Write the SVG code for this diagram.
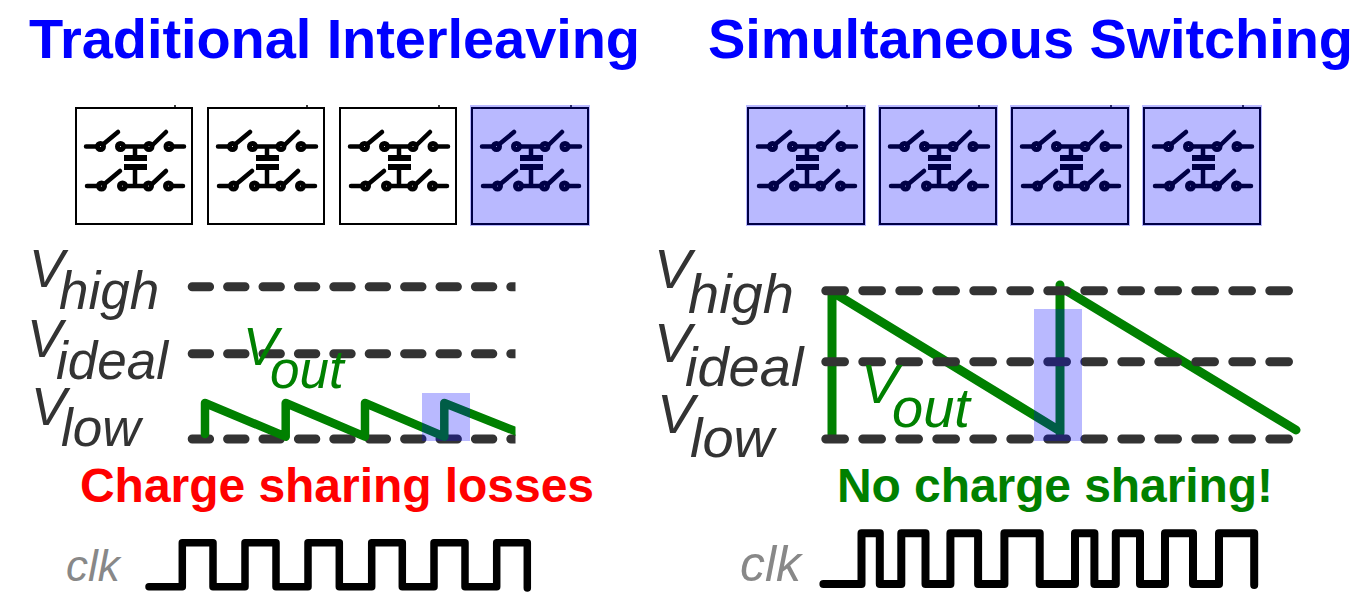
<svg xmlns="http://www.w3.org/2000/svg" width="1366" height="605" viewBox="0 0 1366 605">
<style>
.title{font:bold 56px "Liberation Sans",Arial,sans-serif;fill:#0000ff}
.note{font:bold 48px "Liberation Sans",Arial,sans-serif}
.v{font:italic 53px "Liberation Sans",Arial,sans-serif;fill:#333}
.vr{font:italic 56px "Liberation Sans",Arial,sans-serif;fill:#333}
.clk{font-family:"Liberation Sans",Arial,sans-serif;font-style:italic;fill:#888}
.dash{fill:none;stroke:#333;stroke-width:9;stroke-linecap:round}
.wave{fill:none;stroke:#008000;stroke-width:9;stroke-linecap:round;stroke-linejoin:round}
.clock{fill:none;stroke:#000;stroke-width:7.500;stroke-linecap:round;stroke-linejoin:round}
.hl{fill:#0000ff;fill-opacity:.275}
.wire{fill:none;stroke:#000;stroke-width:4.500;stroke-linecap:round}
.ring{fill:#fff;stroke:#000;stroke-width:5}
</style>
<defs>
<clipPath id="cl"><rect x="180" y="270" width="335.500" height="190"/></clipPath>
<g id="cell">
<rect x="0" y="0" width="116" height="116" fill="#fff" stroke="#000" stroke-width="2"/>
<path d="M99 -3V0M116 63V69" fill="none" stroke="#000" stroke-width="1.500"/>
<path class="wire" d="M10 38.500H21M24.500 38.500L42 24M48 38.500H69M75 38.500L90 24M97 38.500H108M59 38.500V47M59 62V78M11 78H22M26 78L44 63M50 78H68M74 78L90 63M96 78H107"/>
<path d="M48 47H71V53H48ZM48 56H71V62H48Z" fill="#000"/>
<circle class="ring" cx="24.500" cy="38.500" r="3"/><circle class="ring" cx="44.500" cy="38.500" r="3"/><circle class="ring" cx="73" cy="38.500" r="3"/><circle class="ring" cx="93" cy="38.500" r="3"/>
<circle class="ring" cx="25.500" cy="78" r="3"/><circle class="ring" cx="46.500" cy="78" r="3"/><circle class="ring" cx="72.500" cy="78" r="3"/><circle class="ring" cx="92.500" cy="78" r="3"/>
</g>
</defs>
<g id="title-left"><text class="title" x="29" y="58" textLength="611">Traditional Interleaving</text></g>
<g id="title-right"><text class="title" x="708" y="58" textLength="645">Simultaneous Switching</text></g>
<g id="cell-l1"><use href="#cell" x="76" y="108"/></g>
<g id="cell-l2"><use href="#cell" x="208" y="108"/></g>
<g id="cell-l3"><use href="#cell" x="340" y="108"/></g>
<g id="cell-l4"><use href="#cell" x="472" y="108"/><rect class="hl" x="470" y="105" width="120" height="121"/></g>
<g id="cell-r1"><use href="#cell" x="748" y="108"/><rect class="hl" x="746" y="105" width="120" height="121"/></g>
<g id="cell-r2"><use href="#cell" x="880" y="108"/><rect class="hl" x="878" y="105" width="120" height="121"/></g>
<g id="cell-r3"><use href="#cell" x="1012" y="108"/><rect class="hl" x="1010" y="105" width="120" height="121"/></g>
<g id="cell-r4"><use href="#cell" x="1144" y="108"/><rect class="hl" x="1142" y="105" width="120" height="121"/></g>
<g id="labels-left">
<text class="v" x="29" y="287">V</text><text class="v" x="59" y="309">high</text>
<text class="v" x="27" y="357">V</text><text class="v" x="56" y="379">ideal</text>
<text class="v" x="31" y="425">V</text><text class="v" x="61" y="446">low</text>
</g>
<g id="connectors">
<g clip-path="url(#cl)">
<path class="dash" stroke-dasharray="17.400 18" d="M192.200 286.700H530M192.200 353.700H530M192.200 439H530"/>
<path class="wave" style="stroke-width:8.500" d="M205 434V403L285.700 436.700V403L365 436.700V403L444.300 436.700V403L530 437"/>
</g>
<path class="wave" d="M832 438V293M834 293L1060 431M1060 433V285M1068 291.700L1296 430"/>
<path class="dash" stroke-dasharray="18.700 18.300" d="M825.800 290.700H1289.500M825.800 361.700H1289.500M825.800 439H1289.500"/>
<rect class="hl" x="422" y="393" width="48" height="48"/>
<rect class="hl" x="1034" y="309" width="48" height="132"/>
<path class="clock" d="M149 586.700H182.300V542.700H213V586.700H245V542.700H276V586.700H308V542.700H339.300V586.700H371.700V542.700H402.300V586.700H434V542.700H465V586.700H496.700V542.700H527.300V588"/>
<path class="clock" style="stroke-width:8" d="M823.400 584H861.500V533.300H879.800V584H901.300V533.300H925.500V584H950.400V533.300H978.100V584H1004.400V533.300H1039.700V584H1075V533.300H1094.400V584H1115.800V533.300H1140V584H1165V533.300H1193V584H1219V533.300H1254.200V585"/>
</g>
<g id="vout-left"><text class="v" style="fill:#008000" x="243" y="365">V</text><text class="v" style="fill:#008000" x="270" y="388">out</text></g>
<g id="labels-right">
<text class="vr" x="654" y="288">V</text><text class="vr" x="688" y="313">high</text>
<text class="vr" x="654" y="362">V</text><text class="vr" x="685" y="386">ideal</text>
<text class="vr" x="657" y="433">V</text><text class="vr" x="690" y="457">low</text>
</g>
<g id="vout-right"><text class="vr" style="fill:#008000" x="861" y="403">V</text><text class="vr" style="fill:#008000" x="892" y="427">out</text></g>
<g id="note-left"><text class="note" x="80" y="502" fill="#ff0000" textLength="514">Charge sharing losses</text></g>
<g id="note-right"><text class="note" x="837" y="502" fill="#008000" textLength="436">No charge sharing!</text></g>
<g id="clk-left"><text class="clk" x="66" y="581" font-size="44">clk</text></g>
<g id="clk-right"><text class="clk" x="740" y="581" font-size="50">clk</text></g>
</svg>
